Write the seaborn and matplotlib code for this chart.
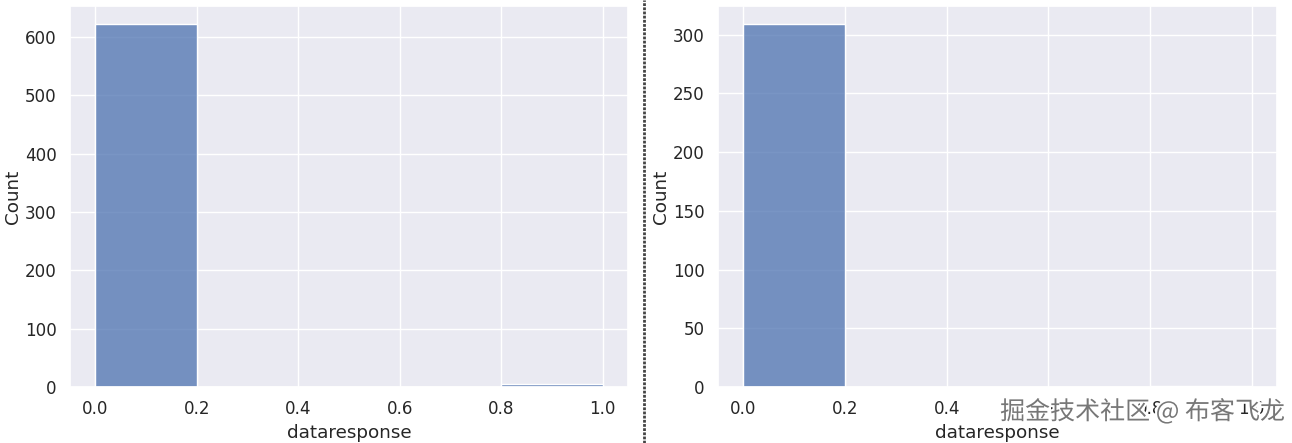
import matplotlib
matplotlib.use("Agg")
import matplotlib.pyplot as plt
import matplotlib.patheffects as pe
import seaborn as sns
import pandas as pd

bin_left = [0.0, 0.8]
left_counts = [622, 5]
right_counts = [309, 1]

sns.set_theme(style="darkgrid", font_scale=1.1)
plt.rcParams['font.family'] = ['DejaVu Sans', 'Noto Sans CJK SC']

fig = plt.figure(figsize=(12.92, 4.43), dpi=100)
ax1 = fig.add_axes([70/1292, 1 - 387/443, 558/1292, (387-6)/443])
ax2 = fig.add_axes([718/1292, 1 - 387/443, 559/1292, (387-6)/443])

for ax, counts in [(ax1, left_counts), (ax2, right_counts)]:
    df = pd.DataFrame({"dataresponse": bin_left, "w": counts})
    sns.histplot(data=df, x="dataresponse", weights="w", bins=5, binrange=(0, 1), ax=ax)
    ax.set_ylabel("Count", labelpad=2)

fig.add_artist(plt.Line2D([644/1292, 644/1292], [0, 1], color="#444444", lw=2, linestyle=(0, (1, 0.5))))
fig.text(1285/1292, 1 - 412/443, "掘金技术社区 @ 布客飞龙", ha="right", va="center",
         fontsize=18, color="#777777", family=['Noto Sans CJK SC', 'DejaVu Sans'],
         path_effects=[pe.withStroke(linewidth=3, foreground="white")])
fig.savefig("out.png", dpi=100)
